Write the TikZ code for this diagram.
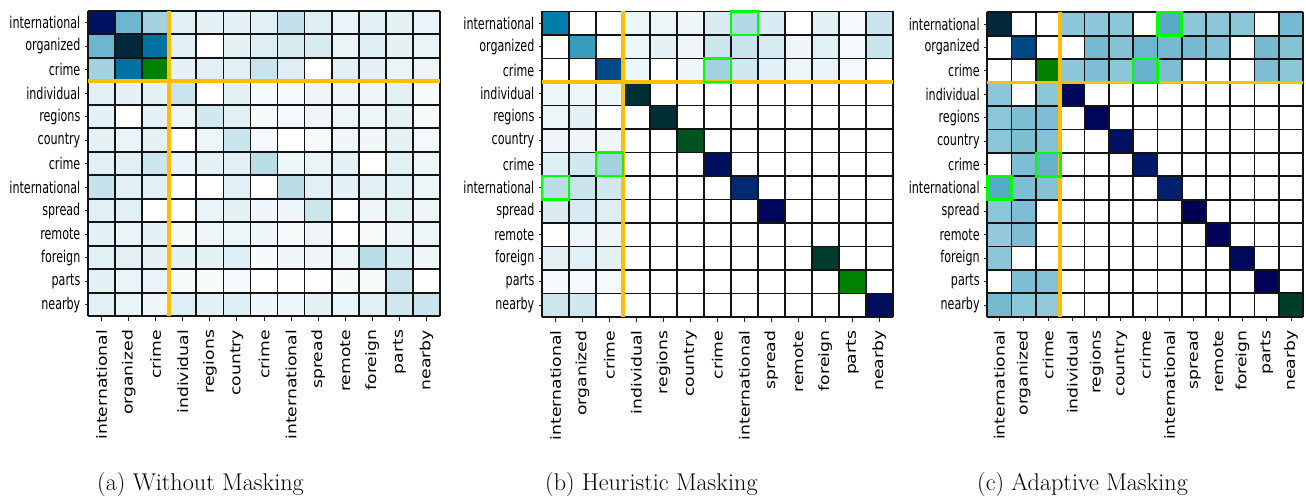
\documentclass[tikz,border=0pt]{standalone}
\usepackage{graphicx}
\usepackage{fontspec}
\newfontfamily\dvs{DejaVu Sans}
\definecolor{sepgold}{RGB}{255,191,0}
\definecolor{boxgreen}{RGB}{0,255,0}
\newcommand\ylabtext[1]{\scalebox{0.687}[1]{#1}}
\newcommand\xlabtext[1]{\scalebox{1}[0.82]{#1}}
\tikzset{
  gridline/.style={line width=1.7pt, draw=black!92},
  sepline/.style={line width=3.6pt, draw=sepgold},
  hilite/.style={line width=2.6pt, draw=boxgreen},
  tickmark/.style={line width=1pt, draw=black!85},
  ylab/.style={anchor=east, inner sep=0pt, font=\dvs\fontsize{16.2}{18}\selectfont},
  xlab/.style={anchor=east, rotate=90, inner sep=0pt, font=\dvs\fontsize{17.2}{19}\selectfont},
  captext/.style={anchor=base west, inner sep=0pt, font=\fontsize{24.2}{28}\selectfont}
}
% #1 prefix, #2 X, #3 Y, #4 W, #5 H, #6 data rows
\newcommand\drawpanel[6]{%
  \foreach \rowvals [count=\r from 0] in {#6} {
    \foreach \v [count=\c from 0] in \rowvals {
      \pgfmathsetmacro\xx{1-\v}
      \pgfmathsetmacro\rr{max(0,3*\xx-2)}
      \pgfmathsetmacro\gg{abs((3*\xx-1)/2)}
      \definecolor{cellc}{rgb}{\rr,\gg,\xx}
      \fill[cellc] ({#2+\c*#4},{#3+\r*#5}) rectangle ++(#4,#5);
    }
  }
  \foreach \i in {0,...,13} {
    \draw[gridline] ({#2+\i*#4},#3) -- ++(0,{13*#5});
    \draw[gridline] (#2,{#3+\i*#5}) -- ++({13*#4},0);
  }
  \draw[sepline] ({#2+3*#4},#3) -- ++(0,{13*#5});
  \draw[sepline] (#2,{#3+3*#5}) -- ++({13*#4},0);
  \foreach \w [count=\i from 0] in {international,organized,crime,individual,regions,country,crime,international,spread,remote,foreign,parts,nearby} {
    \node[ylab] (#1y\i) at ({#2-7.5},{#3+(\i+0.5)*#5}) {\ylabtext{\w}};
    \draw[tickmark] (#2,{#3+(\i+0.5)*#5}) -- ++(-3.5,0);
    \node[xlab] (#1x\i) at ({#2+(\i+0.5)*#4},{#3+13*#5+13.5}) {\xlabtext{\w}};
    \draw[tickmark] ({#2+(\i+0.5)*#4},{#3+13*#5}) -- ++(0,4.5);
  }
}
% #1 X, #2 Y, #3 W, #4 H
\newcommand\drawboxes[4]{%
  \foreach \c/\r in {7/0,6/2,2/6,0/7} {
    \draw[hilite] ({#1+\c*#3},{#2+\r*#4}) rectangle ++(#3,#4);
  }
}
\begin{document}
\begin{tikzpicture}[x=1pt,y=-1pt]
\path[use as bounding box, fill=white] (0,0) rectangle (1306,497);

\drawpanel{pa}{88}{10.8}{27.08}{23.5}{
{0.62,0.19,0.12,0.04,0.035,0.035,0.04,0.08,0.045,0.03,0.04,0.035,0.03},
{0.19,0.77,0.37,0.04,0,0.035,0.045,0.05,0.05,0.03,0.045,0.035,0.03},
{0.12,0.37,1,0.035,0.04,0.04,0.07,0.045,0,0.04,0.035,0.03,0.025},
{0.04,0.035,0.035,0.07,0,0.035,0.015,0.01,0.02,0.02,0.02,0.04,0.01},
{0.035,0,0.035,0.025,0.06,0.04,0.01,0.015,0.02,0.025,0.025,0.035,0.01},
{0.035,0.03,0.035,0,0.025,0.07,0.015,0,0.01,0.02,0.02,0.035,0.015},
{0.04,0.04,0.065,0.03,0.035,0.04,0.09,0.02,0.03,0.035,0,0.04,0.02},
{0.075,0.04,0.04,0,0,0.04,0,0.09,0.04,0.035,0.04,0.04,0.025},
{0.04,0.04,0,0,0.03,0.035,0.02,0.02,0.065,0,0.02,0.04,0.02},
{0.035,0.03,0.035,0.01,0.02,0.025,0.02,0.01,0.02,0,0.01,0.025,0.02},
{0.04,0.04,0.035,0.035,0.035,0.045,0.01,0.02,0.02,0.025,0.09,0.055,0.02},
{0.035,0.03,0.03,0.01,0.01,0.015,0,0,0,0.01,0.01,0.07,0},
{0.04,0.03,0.02,0.045,0.035,0.045,0.02,0.02,0.035,0.03,0.04,0.06,0.07}}

\drawpanel{pb}{542}{11.5}{26.98}{23.5}{
{0.34,0,0,0.025,0.025,0.02,0.05,0.1,0.05,0,0.035,0.015,0.07},
{0,0.26,0,0.025,0.035,0.02,0.065,0.07,0.055,0.02,0.04,0.015,0.07},
{0,0,0.47,0.025,0,0.02,0.12,0.06,0.04,0.025,0.03,0.015,0},
{0.025,0.025,0.025,0.79,0,0,0,0,0,0,0,0,0},
{0.025,0.035,0,0,0.79,0,0,0,0,0,0,0,0},
{0.02,0.02,0.02,0,0,0.88,0,0,0,0,0,0,0},
{0.045,0.06,0.12,0,0,0,0.63,0,0,0,0,0,0},
{0.09,0.07,0.06,0,0,0,0,0.56,0,0,0,0,0},
{0.05,0.055,0.045,0,0,0,0,0,0.65,0,0,0,0},
{0,0.02,0.02,0,0,0,0,0,0,0,0,0,0},
{0.035,0.04,0.035,0,0,0,0,0,0,0,0.82,0,0},
{0.015,0.015,0.015,0,0,0,0,0,0,0,0,1,0},
{0.065,0.06,0,0,0,0,0,0,0,0,0,0,0.63}}
\drawboxes{542}{11.5}{26.98}{23.5}

\drawpanel{pc}{987.3}{12.3}{24.3}{23.42}{
{0.77,0,0,0.15,0.15,0.15,0,0.22,0.15,0.15,0.15,0,0.18},
{0,0.48,0,0,0.18,0.16,0.19,0.18,0.18,0.16,0,0.18,0.16},
{0,0,1,0.15,0.17,0.15,0.2,0.17,0,0,0,0.17,0.15},
{0.15,0,0.15,0.65,0,0,0,0,0,0,0,0,0},
{0.15,0.17,0.17,0,0.65,0,0,0,0,0,0,0,0},
{0.15,0.17,0.16,0,0,0.62,0,0,0,0,0,0,0},
{0,0.17,0.2,0,0,0,0.6,0,0,0,0,0,0},
{0.22,0.17,0.16,0,0,0,0,0.58,0,0,0,0,0},
{0.15,0.17,0,0,0,0,0,0,0.67,0,0,0,0},
{0.14,0.17,0,0,0,0,0,0,0,0.66,0,0,0},
{0.15,0,0,0,0,0,0,0,0,0,0.64,0,0},
{0,0.17,0.16,0,0,0,0,0,0,0,0,0.66,0},
{0.18,0.15,0.14,0,0,0,0,0,0,0,0,0,0.83}}
\drawboxes{987.3}{12.3}{24.3}{23.42}

\node[captext] (capa) at (97,490.5) {(a) Without Masking};
\node[captext] (capb) at (545,490.5) {(b) Heuristic Masking};
\node[captext] (capc) at (977,490.5) {(c) Adaptive Masking};
\end{tikzpicture}
\end{document}
